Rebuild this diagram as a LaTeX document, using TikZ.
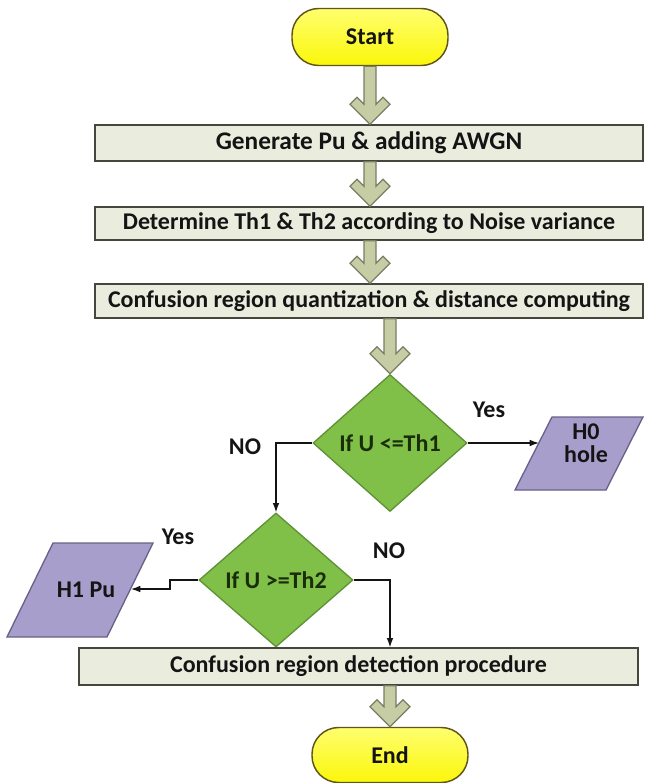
\documentclass[tikz,border=0pt]{standalone}
\usepackage{fontspec}
\setmainfont{Carlito}
\usetikzlibrary{shapes.geometric,arrows.meta,calc}
\definecolor{termfill}{RGB}{250,246,10}
\definecolor{termtop}{RGB}{255,255,110}
\definecolor{termline}{RGB}{95,85,25}
\definecolor{boxfill}{RGB}{234,237,222}
\definecolor{boxline}{RGB}{70,70,60}
\definecolor{decfill}{RGB}{128,192,72}
\definecolor{decline}{RGB}{95,145,55}
\definecolor{iofill}{RGB}{168,158,204}
\definecolor{ioline}{RGB}{105,98,135}
\definecolor{arrfill}{RGB}{198,205,165}
\definecolor{arrline}{RGB}{120,125,100}
\definecolor{txt}{RGB}{20,20,20}
\definecolor{dectxt}{RGB}{25,45,10}
\tikzset{
  bigfont/.style={font=\fontsize{18}{20}\selectfont\bfseries},
  term/.style={bigfont, rectangle, rounded corners=20pt, draw=termline, line width=1.1pt,
    top color=termtop, bottom color=termfill, minimum width=117pt, inner sep=0pt, text=txt},
  procbox/.style={bigfont, rectangle, draw=boxline, fill=boxfill, line width=1pt,
    minimum width=411pt, inner sep=0pt, text=txt},
  decision/.style={bigfont, diamond, draw=decline, fill=decfill, line width=1pt,
    minimum width=115.5pt, inner sep=0pt, text=dectxt},
  ioshape/.style={draw=ioline, fill=iofill, line width=1pt, line join=miter},
  iotext/.style={font=\fontsize{18}{17.5}\selectfont\bfseries, text=txt, inner sep=0pt, align=center},
  lbl/.style={bigfont, text=txt, inner sep=0pt},
  barrow/.style={draw=arrline, fill=arrfill, line width=0.9pt, line join=miter},
  thin/.style={draw=txt, line width=0.9pt, -{Latex[length=7pt,width=5pt]}}
}
\newcommand{\fatarrow}[2]{%
  \coordinate (fatip) at (#2);
  \coordinate (fatop) at (fatip |- #1);
  \draw[barrow] (fatip) -- ++(-20,-20) -- ++(7,-7) -- ++(7,7)
    -- ($(fatop)+(-6,0)$) -- ($(fatop)+(6,0)$) -- ($(fatip)+(6,-20)$)
    -- ++(7,-7) -- ++(7,7) -- cycle;
}
\begin{document}
\begin{tikzpicture}[x=0.75pt,y=-0.75pt]
\useasboundingbox (0,0) rectangle (645,783);
\node[term, minimum height=42.75pt] (st) at (370,37) {Start};
\node[procbox, minimum height=27pt, font=\fontsize{19}{21}\selectfont\bfseries] (b1) at (369,143) {Generate Pu \& adding AWGN};
\node[procbox, minimum height=24.75pt] (b2) at (369,223.5) {Determine Th1 \& Th2 according to Noise variance};
\node[procbox, minimum height=25.5pt] (b3) at (369,301) {Confusion region quantization \& distance computing};
\node[decision, minimum height=102.75pt] (d1) at (390,443) {If U <=Th1};
\draw[ioshape] (515,490) -- (552,417) -- (643,417) -- (606,490) -- cycle;
\node[iotext] (h0) at (586,443) {H0\\hole};
\node[decision, minimum height=100.5pt] (d2) at (276,580) {If U >=Th2};
\draw[ioshape] (7,637) -- (53,543) -- (153,543) -- (107,637) -- cycle;
\node[iotext] (h1) at (86,590) {H1 Pu};
\node[procbox, minimum width=419.25pt, minimum height=27.75pt] (b4) at (358.5,666.5) {Confusion region detection procedure};
\node[term, minimum height=41.25pt] (e) at (390,755) {End};

\node[lbl] (yes1) at (489,410) {Yes};
\node[lbl] (no1) at (245,447) {NO};
\node[lbl] (yes2) at (178,537) {Yes};
\node[lbl] (no2) at (389,551) {NO};

\fatarrow{st.south}{b1.north -| st.south}
\fatarrow{b1.south}{b2.north -| st.south}
\fatarrow{b2.south}{b3.north -| st.south}
\fatarrow{b3.south}{d1.north}
\fatarrow{b4.south}{e.north}

\coordinate (h0in) at (539,443);
\coordinate (h1in) at (131,589);
\draw[thin] (d1.east) -- (h0in);
\draw[thin] (d1.west) -| (d2.north);
\coordinate (jog) at (170,580);
\draw[thin] (d2.west) -- (jog) -- (jog |- h1in) -- (h1in);
\draw[thin] (d2.east) -| (b4.north -| e.north);
\end{tikzpicture}
\end{document}
